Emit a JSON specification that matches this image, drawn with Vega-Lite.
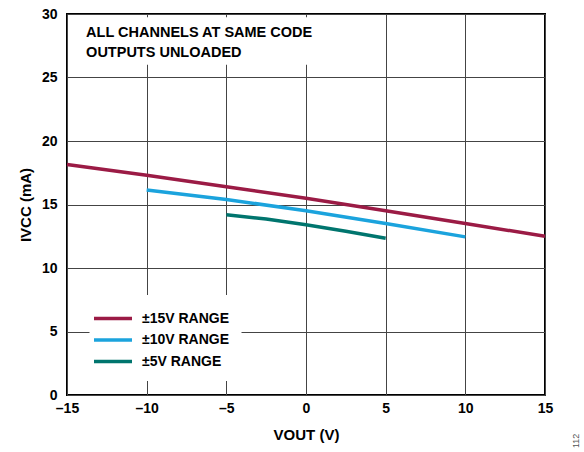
{
  "$schema": "https://vega.github.io/schema/vega-lite/v6.json",
  "width": 478,
  "height": 381,
  "autosize": {"type": "none"},
  "padding": {"left": 67, "top": 14, "right": 39, "bottom": 57},
  "background": "white",
  "title": {"text": "112", "orient": "right", "anchor": "end", "angle": -90, "align": "left", "dx": -6, "fontSize": 9, "fontWeight": "normal", "color": "#555", "font": "Liberation Sans", "offset": 10},
  "config": {
    "view": {"stroke": "black", "strokeWidth": 2},
    "font": "Liberation Sans",
    "axis": {
      "labelFont": "Liberation Sans", "labelFontSize": 14, "labelFontWeight": "bold", "labelColor": "black",
      "titleFont": "Liberation Sans", "titleFontSize": 15, "titleFontWeight": "bold", "titleColor": "black",
      "gridColor": "#444", "gridWidth": 1, "gridOpacity": 1,
      "ticks": false, "domain": false, "labelFlush": false, "labelOverlap": false
    }
  },
  "layer": [
    {
      "data": {"values": [{"x1": -14.3, "x2": 2.4, "y1": 26.0, "y2": 29.75}]},
      "mark": {"type": "rect", "fill": "white"},
      "encoding": {
        "x": {"field": "x1", "type": "quantitative", "scale": {"domain": [-15, 15], "nice": false},
              "axis": {"values": [-15, -10, -5, 0, 5, 10, 15], "title": "VOUT (V)", "labelPadding": 6, "titlePadding": 12, "labelExpr": "replace(datum.label, '−', '–')"}},
        "x2": {"field": "x2"},
        "y": {"field": "y1", "type": "quantitative", "scale": {"domain": [0, 30], "nice": false},
              "axis": {"values": [0, 5, 10, 15, 20, 25, 30], "title": "IVCC (mA)", "labelPadding": 10, "titlePadding": 8}},
        "y2": {"field": "y2"}
      }
    },
    {
      "data": {"values": [
        {"x": -13.8, "y": 28.5, "t": "ALL CHANNELS AT SAME CODE"},
        {"x": -13.8, "y": 26.95, "t": "OUTPUTS UNLOADED"}
      ]},
      "mark": {"type": "text", "align": "left", "baseline": "middle", "fontSize": 14.5, "fontWeight": "bold", "font": "Liberation Sans", "color": "black"},
      "encoding": {
        "x": {"field": "x", "type": "quantitative", "scale": {"domain": [-15, 15], "nice": false}},
        "y": {"field": "y", "type": "quantitative", "scale": {"domain": [0, 30], "nice": false}},
        "text": {"field": "t"}
      }
    },
    {
      "data": {"values": [
        {"v": -15, "i": 18.15, "r": "±15V RANGE"},
        {"v": -10, "i": 17.3, "r": "±15V RANGE"},
        {"v": -5, "i": 16.4, "r": "±15V RANGE"},
        {"v": 0, "i": 15.5, "r": "±15V RANGE"},
        {"v": 5, "i": 14.5, "r": "±15V RANGE"},
        {"v": 10, "i": 13.5, "r": "±15V RANGE"},
        {"v": 15, "i": 12.5, "r": "±15V RANGE"},
        {"v": -10, "i": 16.15, "r": "±10V RANGE"},
        {"v": -5, "i": 15.4, "r": "±10V RANGE"},
        {"v": 0, "i": 14.5, "r": "±10V RANGE"},
        {"v": 5, "i": 13.5, "r": "±10V RANGE"},
        {"v": 10, "i": 12.45, "r": "±10V RANGE"},
        {"v": -5, "i": 14.2, "r": "±5V RANGE"},
        {"v": -2.5, "i": 13.85, "r": "±5V RANGE"},
        {"v": 0, "i": 13.4, "r": "±5V RANGE"},
        {"v": 2.5, "i": 12.9, "r": "±5V RANGE"},
        {"v": 5, "i": 12.35, "r": "±5V RANGE"}
      ]},
      "mark": {"type": "line", "strokeWidth": 3.5},
      "encoding": {
        "x": {"field": "v", "type": "quantitative", "scale": {"domain": [-15, 15], "nice": false}},
        "y": {"field": "i", "type": "quantitative", "scale": {"domain": [0, 30], "nice": false}},
        "color": {
          "field": "r", "type": "nominal",
          "scale": {"domain": ["±15V RANGE", "±10V RANGE", "±5V RANGE"], "range": ["#9b1b45", "#1ba3dd", "#00756e"]},
          "legend": {
            "title": null, "orient": "none", "legendX": 22.5, "legendY": 281,
            "fillColor": "white", "padding": 12,
            "symbolType": "M-2,0H2", "symbolSize": 361, "symbolStrokeWidth": 3.5,
            "labelFont": "Liberation Sans", "labelFontSize": 14, "labelFontWeight": "bold", "labelColor": "black",
            "labelOffset": 17.5, "rowPadding": 2.5
          }
        }
      }
    }
  ]
}
